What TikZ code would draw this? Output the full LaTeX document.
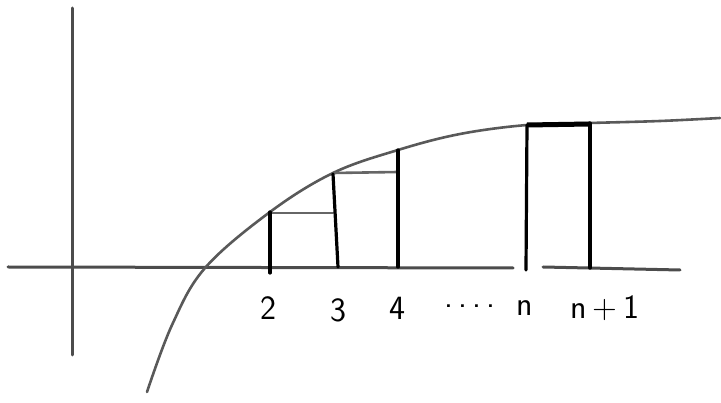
\documentclass[tikz,border=0pt]{standalone}
\begin{document}
\begin{tikzpicture}[x=1pt,y=-1pt,
  axisline/.style={draw=black!70,line width=3pt,line cap=round},
  curveline/.style={draw=black!65,line width=2.6pt,line cap=round},
  barline/.style={draw=black,line width=3.2pt,line cap=round},
  stepline/.style={draw=black!60,line width=2.6pt,line cap=round},
  lbl/.style={font=\sffamily\fontsize{34}{36}\selectfont,inner sep=0pt}]
\useasboundingbox (0,0) rectangle (721,403);
% axes
\draw[axisline] (72,8) -- (72,355);
\draw[axisline] (8,267) -- (513,268);
\draw[axisline] (543,267) -- (680,270);
% curve
\draw[curveline] plot[smooth,tension=0.6] coordinates {(147,392) (172,325) (205,268) (270,212) (333,173) (398,150) (460,134) (527,125) (590,123) (660,121) (720,118)};
% steps
\draw[stepline] (270,213) -- (333,213);
\draw[stepline] (333,173) -- (398,172);
% verticals
\draw[barline] (270,212) -- (270,273);
\draw[barline] (333,174) -- (338,267);
\draw[barline] (398,150) -- (398,267);
\draw[barline] (527,125) -- (526,270);
\draw[barline] (590,123) -- (590,268);
\draw[draw=black,line width=5pt] (527,125) -- (590,124);
% labels
\node[lbl] (l2) at (268,308) {2};
\node[lbl] (l3) at (338,310) {3};
\node[lbl] (l4) at (397,308) {4};
\node[lbl] (ld) at (470,306) {.\hspace{5pt}.\hspace{5pt}.\hspace{5pt}.};
\node[lbl] (ln) at (525,308) {n};
\node[lbl] (ln1) at (605,308) {n\,+\,1};
\end{tikzpicture}
\end{document}
